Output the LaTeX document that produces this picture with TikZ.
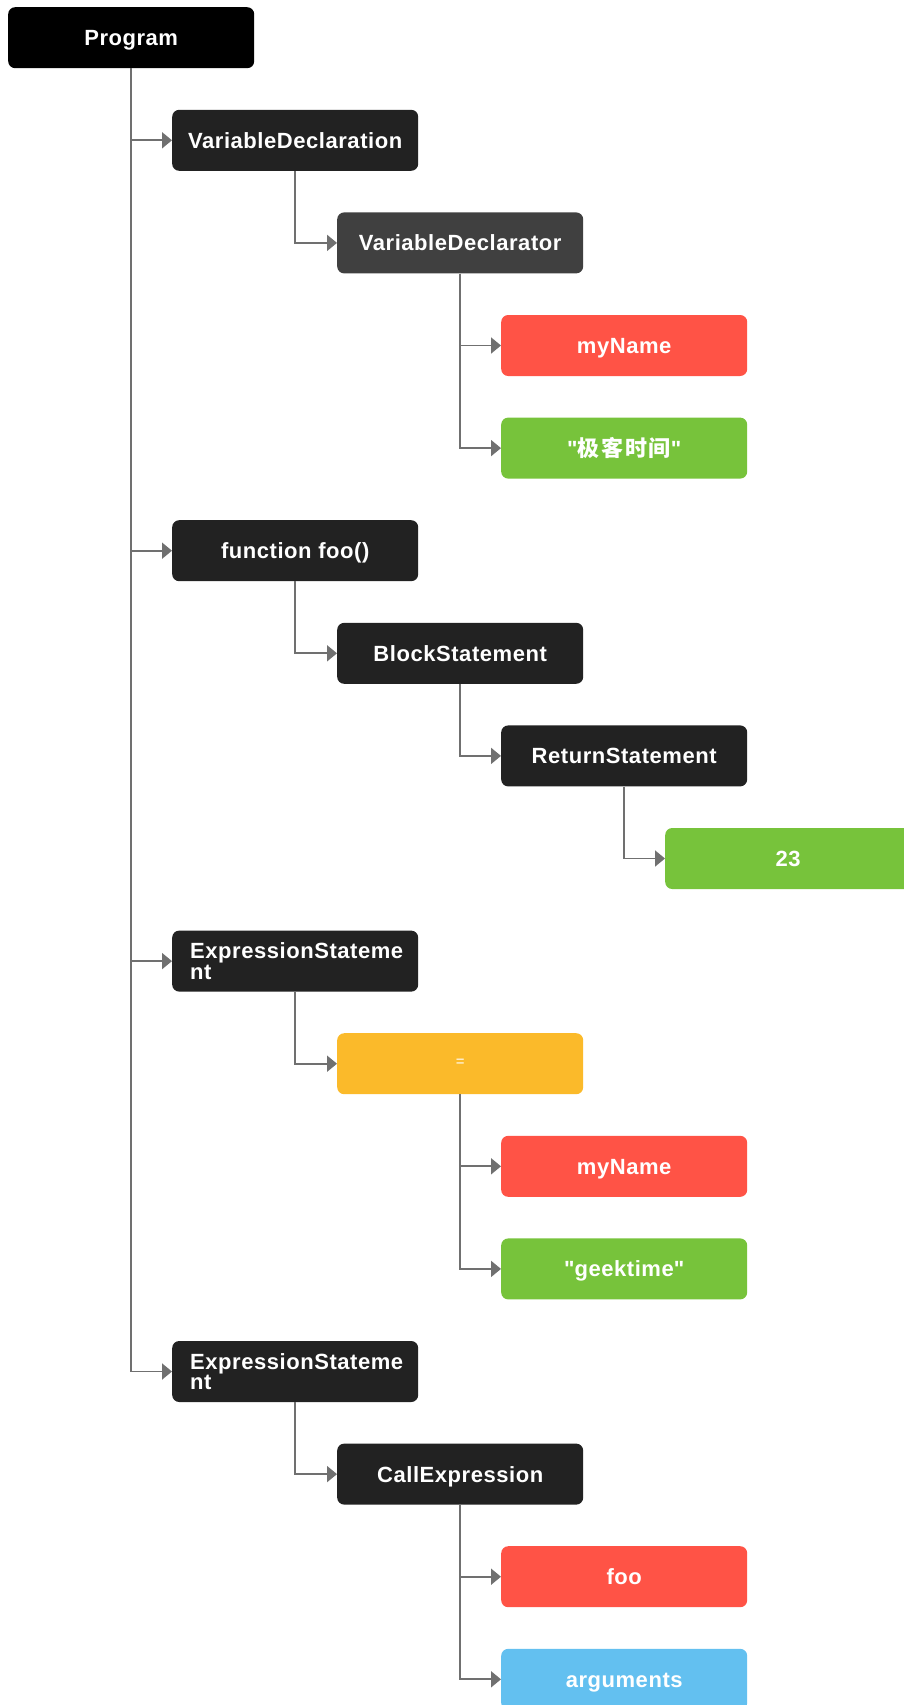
\documentclass[tikz,border=0pt]{standalone}
\usepackage{fontspec}
\setmainfont{Liberation Sans}[LetterSpace=2.5]
% same face without TeX ligatures, for straight double quotes
\newfontfamily\qfont{Liberation Sans}[LetterSpace=2.5]
\newfontfamily\cjk{Noto Sans CJK SC}[LetterSpace=8]
\usetikzlibrary{arrows.meta}
\definecolor{nblack}{HTML}{000000}
\definecolor{ndark}{HTML}{222222}
\definecolor{ngrey}{HTML}{404040}
\definecolor{nred}{HTML}{FF5346}
\definecolor{ngreen}{HTML}{77C33B}
\definecolor{nyellow}{HTML}{FBBA2A}
\definecolor{nblue}{HTML}{63C0F0}
\definecolor{wire}{HTML}{707070}
\newcommand{\dq}{{\qfont\bfseries"}}
\tikzset{
  boxbase/.style={anchor=north west, rounded corners=7pt, minimum width=246pt,
    minimum height=61pt, inner sep=0pt, text=white,
    font=\bfseries\fontsize{22}{20.5}\selectfont},
  box/.style={boxbase, text height=15.8pt, text depth=0pt},
  wrapbox/.style={boxbase, align=left, text width=210pt},
  conn/.style={draw=wire, line width=1.9pt,
    -{Triangle[length=10pt,width=16pt]}},
}
\begin{document}
\begin{tikzpicture}[x=1pt,y=-1pt]
\useasboundingbox (0,0) rectangle (903,1705);
% tree nodes, one row per 102.6px, one level per 164.25px
\node[box, fill=nblack]  (n0)  at (8,7)        {Program};
\node[box, fill=ndark]   (n1)  at (172,109.6)  {VariableDeclaration};
\node[box, fill=ngrey]   (n2)  at (337,212.2)  {VariableDeclarator};
\node[box, fill=nred]    (n3)  at (501,314.8)  {myName};
\node[box, fill=ngreen]  (n4)  at (501,417.4)  {\dq{\cjk 极客时间}\dq};
\node[box, fill=ndark]   (n5)  at (172,520)    {function foo()};
\node[box, fill=ndark]   (n6)  at (337,622.6)  {BlockStatement};
\node[box, fill=ndark]   (n7)  at (501,725.2)  {ReturnStatement};
\node[box, fill=ngreen]  (n8)  at (665,827.8)  {23};
\node[wrapbox, fill=ndark] (n9) at (172,930.4) {ExpressionStateme\\nt};
\node[box, fill=nyellow, font=\fontsize{15}{15}\selectfont,
      text height=5pt] (n10) at (337,1033) {=};
\node[box, fill=nred]    (n11) at (501,1135.6) {myName};
\node[box, fill=ngreen]  (n12) at (501,1238.2) {\dq geektime\dq};
\node[wrapbox, fill=ndark] (n13) at (172,1340.8) {ExpressionStateme\\nt};
\node[box, fill=ndark]   (n14) at (337,1443.4) {CallExpression};
\node[box, fill=nred]    (n15) at (501,1546)   {foo};
\node[box, fill=nblue]   (n16) at (501,1648.6) {arguments};
% connectors: down from the parent's centre, then across to the child
\foreach \p/\c in {n0/n1, n1/n2, n2/n3, n2/n4, n0/n5, n5/n6, n6/n7, n7/n8,
                   n0/n9, n9/n10, n10/n11, n10/n12, n0/n13, n13/n14,
                   n14/n15, n14/n16}
  \draw[conn] (\p.south) |- (\c.west);
\end{tikzpicture}
\end{document}
